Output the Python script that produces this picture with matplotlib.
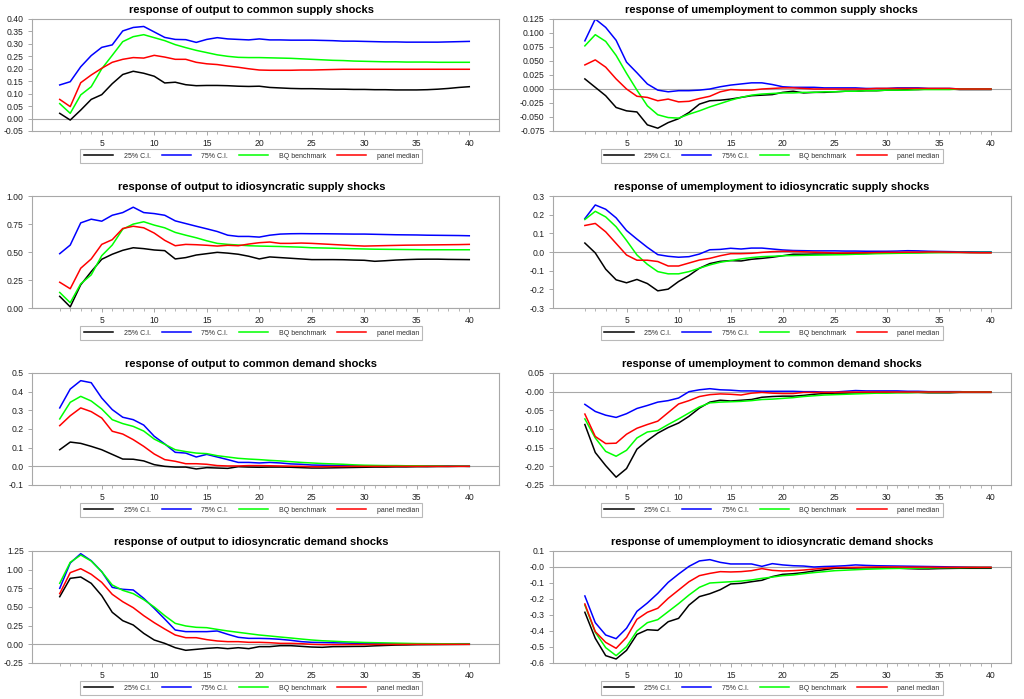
import numpy as np
import matplotlib
matplotlib.use("Agg")
import matplotlib.pyplot as plt

plt.rcParams['font.family'] = ['Liberation Sans', 'DejaVu Sans']

horizon = np.arange(1, 41)
series_names = ["25% C.I.", "75% C.I.", "BQ benchmark", "panel median"]
series_colors = ["#000000", "#0000ff", "#00ff00", "#ff0000"]

titles = [
    "response of output to common supply shocks",
    "response of umemployment to common supply shocks",
    "response of output to idiosyncratic supply shocks",
    "response of umemployment to idiosyncratic supply shocks",
    "response of output to common demand shocks",
    "response of umemployment to common demand shocks",
    "response of output to idiosyncratic demand shocks",
    "response of umemployment to idiosyncratic demand shocks",
]

ytick_labels = [
    ["-0.05", "0.00", "0.05", "0.10", "0.15", "0.20", "0.25", "0.30", "0.35", "0.40"],
    ["-0.075", "-0.050", "-0.025", "0.000", "0.025", "0.050", "0.075", "0.100", "0.125"],
    ["0.00", "0.25", "0.50", "0.75", "1.00"],
    ["-0.3", "-0.2", "-0.1", "0.0", "0.1", "0.2", "0.3"],
    ["-0.1", "0.0", "0.1", "0.2", "0.3", "0.4", "0.5"],
    ["-0.25", "-0.20", "-0.15", "-0.10", "-0.05", "-0.00", "0.05"],
    ["-0.25", "0.00", "0.25", "0.50", "0.75", "1.00", "1.25"],
    ["-0.6", "-0.5", "-0.4", "-0.3", "-0.2", "-0.1", "-0.0", "0.1"],
]

# output, common supply
out_cs_lo = [0.021, -0.006, 0.034, 0.077, 0.096, 0.140, 0.177, 0.190, 0.182, 0.170, 0.143, 0.146, 0.136, 0.132, 0.133, 0.133, 0.132, 0.130, 0.129, 0.130, 0.125, 0.123, 0.121, 0.120, 0.120, 0.119, 0.118, 0.118, 0.117, 0.117, 0.116, 0.116, 0.115, 0.115, 0.115, 0.116, 0.118, 0.121, 0.125, 0.128]
out_cs_hi = [0.135, 0.148, 0.208, 0.253, 0.286, 0.296, 0.352, 0.366, 0.370, 0.348, 0.326, 0.318, 0.317, 0.306, 0.318, 0.325, 0.320, 0.318, 0.316, 0.320, 0.316, 0.316, 0.315, 0.315, 0.315, 0.314, 0.313, 0.311, 0.311, 0.310, 0.309, 0.308, 0.308, 0.307, 0.307, 0.307, 0.307, 0.308, 0.309, 0.310]
out_cs_bq = [0.060, 0.021, 0.095, 0.128, 0.200, 0.254, 0.309, 0.329, 0.337, 0.325, 0.313, 0.297, 0.285, 0.274, 0.265, 0.256, 0.250, 0.246, 0.245, 0.245, 0.244, 0.243, 0.242, 0.240, 0.238, 0.236, 0.234, 0.233, 0.231, 0.230, 0.229, 0.228, 0.228, 0.227, 0.227, 0.227, 0.226, 0.226, 0.226, 0.226]
out_cs_med = [0.077, 0.048, 0.144, 0.175, 0.202, 0.226, 0.238, 0.245, 0.243, 0.254, 0.247, 0.238, 0.238, 0.226, 0.220, 0.217, 0.211, 0.206, 0.200, 0.195, 0.194, 0.194, 0.194, 0.195, 0.195, 0.196, 0.197, 0.198, 0.198, 0.198, 0.198, 0.198, 0.198, 0.198, 0.198, 0.198, 0.198, 0.198, 0.198, 0.198]

# unemployment, common supply
un_cs_lo = [0.018, 0.003, -0.012, -0.033, -0.039, -0.041, -0.064, -0.070, -0.060, -0.053, -0.042, -0.027, -0.021, -0.020, -0.018, -0.015, -0.012, -0.011, -0.010, -0.006, -0.004, -0.007, -0.006, -0.006, -0.005, -0.004, -0.004, -0.003, -0.003, -0.002, -0.002, -0.001, -0.001, 0.000, 0.000, 0.000, -0.001, -0.001, -0.001, -0.001]
un_cs_hi = [0.086, 0.125, 0.110, 0.087, 0.048, 0.029, 0.009, -0.002, -0.005, -0.003, -0.003, -0.002, 0.000, 0.004, 0.007, 0.009, 0.011, 0.011, 0.008, 0.004, 0.003, 0.003, 0.003, 0.002, 0.002, 0.002, 0.002, 0.001, 0.001, 0.001, 0.002, 0.002, 0.002, 0.001, 0.001, 0.001, 0.000, 0.000, 0.000, 0.000]
un_cs_bq = [0.077, 0.097, 0.085, 0.060, 0.028, -0.002, -0.030, -0.046, -0.051, -0.052, -0.045, -0.039, -0.032, -0.026, -0.020, -0.015, -0.011, -0.009, -0.008, -0.007, -0.007, -0.006, -0.006, -0.005, -0.005, -0.004, -0.004, -0.003, -0.003, -0.002, -0.002, -0.002, -0.001, -0.001, -0.001, -0.001, 0.000, 0.000, 0.000, 0.000]
un_cs_med = [0.043, 0.052, 0.039, 0.018, 0.000, -0.013, -0.015, -0.021, -0.018, -0.023, -0.022, -0.017, -0.013, -0.005, -0.001, -0.002, -0.002, 0.000, 0.001, 0.002, 0.002, 0.001, 0.000, 0.000, 0.000, 0.000, 0.000, 0.000, 0.001, 0.001, 0.001, 0.001, 0.001, 0.001, 0.001, 0.001, 0.000, 0.000, 0.000, 0.000]

# output, idiosyncratic supply
out_is_lo = [0.104, 0.010, 0.207, 0.325, 0.435, 0.480, 0.515, 0.538, 0.530, 0.518, 0.512, 0.438, 0.450, 0.473, 0.485, 0.497, 0.490, 0.480, 0.462, 0.438, 0.456, 0.450, 0.444, 0.438, 0.432, 0.432, 0.432, 0.431, 0.428, 0.426, 0.417, 0.422, 0.428, 0.432, 0.435, 0.436, 0.436, 0.434, 0.433, 0.432]
out_is_hi = [0.485, 0.562, 0.760, 0.793, 0.775, 0.828, 0.852, 0.900, 0.852, 0.843, 0.828, 0.778, 0.754, 0.730, 0.707, 0.683, 0.650, 0.639, 0.639, 0.633, 0.650, 0.660, 0.663, 0.664, 0.663, 0.663, 0.662, 0.661, 0.660, 0.660, 0.658, 0.656, 0.654, 0.653, 0.652, 0.650, 0.649, 0.648, 0.647, 0.645]
out_is_bq = [0.139, 0.047, 0.216, 0.296, 0.467, 0.562, 0.704, 0.749, 0.770, 0.740, 0.716, 0.675, 0.650, 0.627, 0.600, 0.577, 0.568, 0.562, 0.556, 0.553, 0.551, 0.549, 0.546, 0.543, 0.538, 0.536, 0.534, 0.531, 0.529, 0.527, 0.525, 0.524, 0.523, 0.522, 0.521, 0.520, 0.520, 0.520, 0.520, 0.520]
out_is_med = [0.230, 0.172, 0.355, 0.438, 0.568, 0.610, 0.710, 0.730, 0.716, 0.669, 0.604, 0.556, 0.568, 0.565, 0.560, 0.553, 0.560, 0.556, 0.571, 0.583, 0.589, 0.577, 0.577, 0.580, 0.577, 0.572, 0.567, 0.562, 0.557, 0.553, 0.555, 0.557, 0.559, 0.561, 0.562, 0.563, 0.564, 0.565, 0.566, 0.568]

# unemployment, idiosyncratic supply
un_is_lo = [0.048, -0.005, -0.092, -0.149, -0.165, -0.147, -0.169, -0.208, -0.199, -0.158, -0.126, -0.087, -0.062, -0.050, -0.046, -0.048, -0.039, -0.034, -0.028, -0.020, -0.012, -0.012, -0.011, -0.011, -0.010, -0.009, -0.008, -0.007, -0.006, -0.005, -0.004, -0.003, -0.003, -0.002, -0.002, -0.002, -0.002, -0.003, -0.003, -0.003]
un_is_hi = [0.179, 0.252, 0.229, 0.183, 0.115, 0.069, 0.025, -0.014, -0.023, -0.028, -0.025, -0.011, 0.012, 0.014, 0.020, 0.016, 0.021, 0.021, 0.016, 0.011, 0.008, 0.007, 0.006, 0.006, 0.006, 0.005, 0.005, 0.004, 0.004, 0.004, 0.005, 0.007, 0.006, 0.004, 0.003, 0.002, 0.001, 0.001, 0.000, 0.000]
un_is_bq = [0.174, 0.218, 0.188, 0.135, 0.062, -0.016, -0.066, -0.105, -0.117, -0.117, -0.105, -0.087, -0.069, -0.055, -0.046, -0.037, -0.030, -0.025, -0.023, -0.020, -0.019, -0.018, -0.017, -0.016, -0.015, -0.014, -0.012, -0.011, -0.009, -0.008, -0.007, -0.006, -0.005, -0.004, -0.003, -0.003, -0.002, -0.002, -0.002, -0.002]
un_is_med = [0.142, 0.153, 0.108, 0.046, -0.016, -0.044, -0.044, -0.051, -0.075, -0.075, -0.059, -0.043, -0.034, -0.020, -0.009, -0.009, -0.007, -0.002, 0.002, 0.004, 0.003, 0.001, -0.001, -0.003, -0.005, -0.005, -0.004, -0.004, -0.003, -0.002, -0.002, -0.001, -0.001, 0.000, 0.000, -0.001, -0.002, -0.003, -0.004, -0.004]

# output, common demand
out_cd_lo = [0.089, 0.130, 0.123, 0.107, 0.089, 0.064, 0.039, 0.038, 0.029, 0.009, 0.000, -0.004, -0.004, -0.014, -0.007, -0.009, -0.011, -0.002, -0.004, -0.005, -0.004, -0.004, -0.005, -0.007, -0.009, -0.009, -0.008, -0.007, -0.006, -0.005, -0.004, -0.004, -0.003, -0.003, -0.002, -0.002, -0.001, -0.001, 0.000, 0.000]
out_cd_hi = [0.313, 0.414, 0.459, 0.448, 0.366, 0.304, 0.263, 0.250, 0.221, 0.161, 0.120, 0.075, 0.071, 0.050, 0.064, 0.050, 0.036, 0.021, 0.021, 0.018, 0.021, 0.018, 0.013, 0.011, 0.007, 0.006, 0.005, 0.004, 0.003, 0.002, 0.002, 0.001, 0.001, 0.001, 0.001, 0.002, 0.003, 0.003, 0.001, 0.000]
out_cd_bq = [0.254, 0.343, 0.375, 0.350, 0.307, 0.250, 0.229, 0.214, 0.189, 0.146, 0.118, 0.089, 0.079, 0.071, 0.068, 0.057, 0.050, 0.043, 0.039, 0.036, 0.032, 0.029, 0.025, 0.021, 0.018, 0.015, 0.013, 0.011, 0.008, 0.006, 0.005, 0.004, 0.004, 0.003, 0.003, 0.002, 0.002, 0.001, 0.001, 0.000]
out_cd_med = [0.218, 0.271, 0.313, 0.293, 0.259, 0.188, 0.173, 0.143, 0.107, 0.066, 0.036, 0.027, 0.014, 0.014, 0.011, 0.004, 0.002, 0.002, 0.004, 0.004, 0.003, 0.002, 0.001, 0.000, -0.002, -0.002, -0.001, -0.001, 0.000, 0.000, 0.000, 0.000, 0.000, 0.000, 0.000, 0.000, 0.000, 0.000, 0.000, 0.000]

# unemployment, common demand
un_cd_lo = [-0.088, -0.163, -0.198, -0.229, -0.206, -0.154, -0.131, -0.111, -0.096, -0.084, -0.066, -0.044, -0.028, -0.023, -0.025, -0.023, -0.021, -0.015, -0.013, -0.012, -0.012, -0.010, -0.007, -0.005, -0.004, -0.004, -0.003, -0.003, -0.002, -0.002, -0.002, -0.002, -0.002, -0.003, -0.003, -0.003, -0.002, -0.002, -0.002, -0.002]
un_cd_hi = [-0.034, -0.053, -0.063, -0.069, -0.059, -0.045, -0.037, -0.028, -0.024, -0.017, 0.000, 0.005, 0.008, 0.005, 0.004, 0.002, 0.002, 0.001, 0.001, 0.001, 0.001, 0.000, 0.000, -0.001, -0.001, 0.001, 0.003, 0.002, 0.002, 0.002, 0.002, 0.001, 0.001, 0.000, 0.000, 0.000, 0.000, -0.001, -0.001, -0.001]
un_cd_bq = [-0.073, -0.124, -0.160, -0.173, -0.157, -0.124, -0.108, -0.104, -0.088, -0.073, -0.057, -0.041, -0.030, -0.028, -0.027, -0.026, -0.024, -0.021, -0.020, -0.018, -0.016, -0.013, -0.011, -0.009, -0.008, -0.007, -0.006, -0.005, -0.004, -0.004, -0.003, -0.003, -0.002, -0.002, -0.002, -0.002, -0.001, -0.001, -0.001, -0.001]
un_cd_med = [-0.060, -0.120, -0.139, -0.138, -0.114, -0.098, -0.088, -0.079, -0.056, -0.033, -0.024, -0.013, -0.008, -0.006, -0.007, -0.009, -0.004, -0.002, -0.004, -0.005, -0.005, -0.002, -0.002, -0.002, -0.002, -0.001, -0.001, -0.001, -0.001, -0.001, -0.001, -0.001, -0.001, -0.001, -0.001, -0.001, -0.001, -0.001, -0.001, -0.001]

# output, idiosyncratic demand
out_id_lo = [0.638, 0.884, 0.902, 0.817, 0.652, 0.429, 0.317, 0.259, 0.147, 0.058, 0.013, -0.045, -0.080, -0.067, -0.054, -0.045, -0.058, -0.045, -0.058, -0.031, -0.031, -0.018, -0.018, -0.027, -0.036, -0.040, -0.031, -0.030, -0.028, -0.027, -0.020, -0.015, -0.010, -0.008, -0.005, -0.004, -0.003, -0.002, -0.001, 0.000]
out_id_hi = [0.750, 1.089, 1.214, 1.120, 0.973, 0.763, 0.737, 0.728, 0.616, 0.482, 0.339, 0.192, 0.170, 0.170, 0.170, 0.179, 0.134, 0.094, 0.080, 0.080, 0.076, 0.067, 0.054, 0.036, 0.027, 0.024, 0.021, 0.018, 0.014, 0.010, 0.009, 0.008, 0.007, 0.006, 0.005, 0.005, 0.006, 0.007, 0.008, 0.008]
out_id_bq = [0.817, 1.098, 1.196, 1.116, 0.973, 0.795, 0.723, 0.679, 0.598, 0.500, 0.384, 0.281, 0.246, 0.228, 0.223, 0.200, 0.179, 0.161, 0.143, 0.125, 0.112, 0.098, 0.085, 0.071, 0.058, 0.048, 0.042, 0.035, 0.030, 0.025, 0.022, 0.019, 0.016, 0.013, 0.010, 0.009, 0.008, 0.007, 0.006, 0.005]
out_id_med = [0.679, 0.960, 1.013, 0.938, 0.830, 0.670, 0.571, 0.491, 0.384, 0.290, 0.205, 0.125, 0.089, 0.089, 0.063, 0.045, 0.036, 0.036, 0.027, 0.027, 0.022, 0.013, 0.013, 0.009, 0.000, -0.004, -0.004, -0.004, -0.003, -0.003, -0.002, -0.002, -0.001, -0.001, 0.000, 0.000, 0.000, 0.000, 0.000, 0.000]

# unemployment, idiosyncratic demand
un_id_lo = [-0.283, -0.446, -0.554, -0.575, -0.521, -0.421, -0.392, -0.396, -0.342, -0.321, -0.238, -0.185, -0.167, -0.142, -0.106, -0.102, -0.092, -0.083, -0.060, -0.046, -0.042, -0.035, -0.025, -0.017, -0.008, -0.007, -0.006, -0.005, -0.005, -0.005, -0.007, -0.010, -0.012, -0.012, -0.010, -0.009, -0.008, -0.008, -0.008, -0.008]
un_id_hi = [-0.181, -0.348, -0.425, -0.448, -0.383, -0.277, -0.225, -0.165, -0.096, -0.044, 0.004, 0.038, 0.046, 0.029, 0.019, 0.019, 0.019, 0.004, 0.021, 0.013, 0.008, 0.006, 0.000, 0.003, 0.005, 0.008, 0.013, 0.010, 0.008, 0.007, 0.006, 0.005, 0.004, 0.003, 0.002, 0.001, 0.000, -0.001, -0.002, -0.002]
un_id_bq = [-0.238, -0.408, -0.504, -0.554, -0.498, -0.400, -0.348, -0.329, -0.279, -0.229, -0.175, -0.127, -0.100, -0.096, -0.092, -0.088, -0.081, -0.071, -0.063, -0.054, -0.050, -0.042, -0.035, -0.029, -0.023, -0.020, -0.017, -0.014, -0.012, -0.010, -0.009, -0.008, -0.007, -0.006, -0.005, -0.004, -0.004, -0.003, -0.003, -0.003]
un_id_med = [-0.231, -0.404, -0.471, -0.508, -0.440, -0.327, -0.283, -0.258, -0.196, -0.144, -0.092, -0.054, -0.040, -0.029, -0.031, -0.029, -0.023, -0.010, -0.021, -0.025, -0.023, -0.019, -0.013, -0.008, -0.004, -0.003, -0.002, -0.001, 0.000, 0.000, 0.000, -0.001, -0.001, -0.001, -0.002, -0.002, -0.002, -0.002, -0.002, -0.002]

panels = [
    (out_cs_lo, out_cs_hi, out_cs_bq, out_cs_med),
    (un_cs_lo, un_cs_hi, un_cs_bq, un_cs_med),
    (out_is_lo, out_is_hi, out_is_bq, out_is_med),
    (un_is_lo, un_is_hi, un_is_bq, un_is_med),
    (out_cd_lo, out_cd_hi, out_cd_bq, out_cd_med),
    (un_cd_lo, un_cd_hi, un_cd_bq, un_cd_med),
    (out_id_lo, out_id_hi, out_id_bq, out_id_med),
    (un_id_lo, un_id_hi, un_id_bq, un_id_med),
]

W, H = 1024, 699
fig = plt.figure(figsize=(W / 100, H / 100), dpi=100)

# pixel layout: (left, width, xlim, centre of title/legend in axes coords)
col_geom = [
    (32, 467, (-1.64, 42.83), 0.470),
    (553, 458, (-2.06, 41.92), 0.478),
]
row_tops = [19, 196, 373, 551]
ax_h = 112
frame_col = "#a8a8a8"

for i, (title, labels, lines) in enumerate(zip(titles, ytick_labels, panels)):
    r, c = divmod(i, 2)
    left, width, xl, cx = col_geom[c]
    ax = fig.add_axes([left / W, (H - row_tops[r] - ax_h) / H, width / W, ax_h / H])

    handles = []
    for y, name, col in zip(lines, series_names, series_colors):
        h, = ax.plot(horizon, y, color=col, lw=1.1, label=name)
        handles.append(h)
    ax.axhline(0, color=frame_col, lw=0.8, zorder=0)

    yt = [float(s) for s in labels]
    ax.set_ylim(yt[0], yt[-1])
    ax.set_yticks(yt)
    ax.set_yticklabels(labels)
    ax.set_xlim(*xl)
    ax.set_xticks([5, 10, 15, 20, 25, 30, 35, 40])
    ax.set_xticks(horizon, minor=True)

    for sp in ax.spines.values():
        sp.set_color(frame_col)
        sp.set_linewidth(0.8)
    ax.tick_params(axis='both', which='major', labelsize=6.2, color=frame_col,
                   labelcolor="#202020", length=3, width=0.7, pad=3)
    ax.tick_params(axis='x', which='minor', color=frame_col, length=2, width=0.6)

    ax.text(cx, 1.04, title, transform=ax.transAxes, ha='center', va='bottom',
            fontsize=8, fontweight='bold')

    leg = ax.legend(handles=handles, loc='upper center', ncol=4,
                    bbox_to_anchor=(cx, -0.13), fontsize=5, frameon=True,
                    fancybox=False, edgecolor=frame_col, handlelength=4.2,
                    handletextpad=1.5, columnspacing=1.6, borderpad=0.5)
    leg.get_frame().set_linewidth(0.8)
    for t in leg.get_texts():
        t.set_color("#303030")

fig.savefig("out.png", dpi=100)
